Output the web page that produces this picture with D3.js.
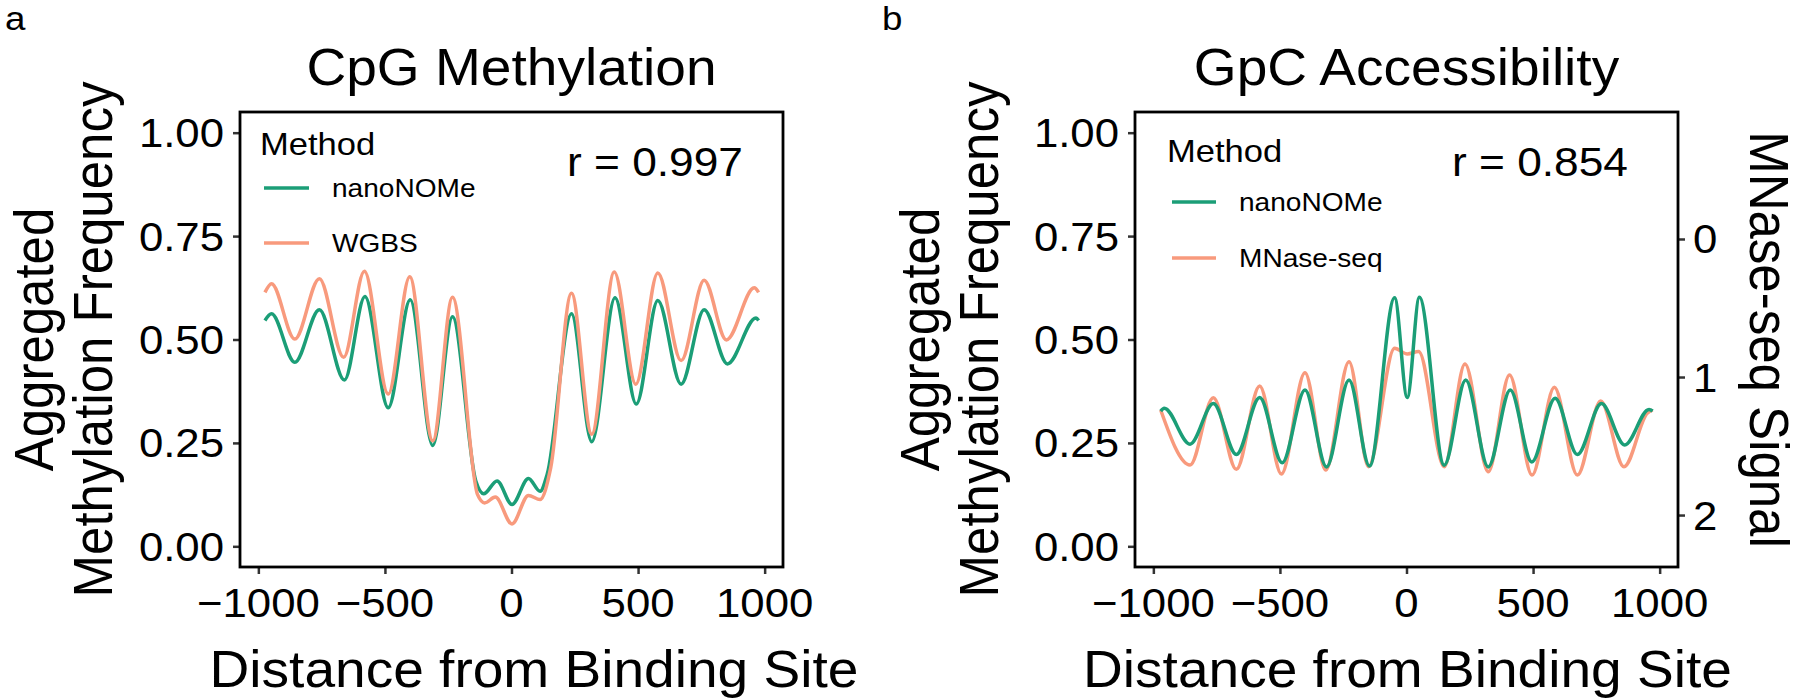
<!DOCTYPE html>
<html>
<head>
<meta charset="utf-8">
<script src="https://cdn.jsdelivr.net/npm/d3@7"></script>
<style>
  html, body { margin: 0; padding: 0; background: #ffffff; }
  svg text { font-family: "Liberation Sans", Arial, Helvetica, sans-serif; fill: #000; }
</style>
</head>
<body>
<svg id="chart" width="1800" height="700"></svg>
<script>
// ---------------- DATA ----------------
const xTicks = [-1000, -500, 0, 500, 1000];
const yTicks = [0, 0.25, 0.5, 0.75, 1.0];
const yTickLabels = ["0.00", "0.25", "0.50", "0.75", "1.00"];
const secTicks = [0, 1, 2];

// Panel a: CpG methylation
const cpgNanoX = [-974, -948, -856, -759, -660, -579, -487, -400, -311, -233, -141, -110, -57, 2, 67, 113, 141, 237, 317, 409, 493, 578, 670, 761, 853, 966, 976];
const cpgNanoY = [0.546, 0.562, 0.445, 0.572, 0.402, 0.604, 0.335, 0.596, 0.244, 0.555, 0.158, 0.127, 0.158, 0.101, 0.164, 0.133, 0.174, 0.562, 0.253, 0.601, 0.344, 0.594, 0.392, 0.572, 0.441, 0.552, 0.546];
const cpgWgbsX = [-974, -948, -856, -759, -663, -581, -487, -402, -311, -233, -134, -106, -64, 2, 67, 113, 155, 237, 317, 406, 491, 578, 670, 761, 849, 959, 976];
const cpgWgbsY = [0.614, 0.635, 0.501, 0.647, 0.457, 0.665, 0.368, 0.652, 0.255, 0.602, 0.125, 0.105, 0.119, 0.054, 0.123, 0.113, 0.190, 0.612, 0.271, 0.663, 0.392, 0.661, 0.449, 0.643, 0.499, 0.625, 0.614];

// Panel b: GpC accessibility (nanoNOMe) and MNase-seq signal (secondary axis)
const gpcNanoX = [-971, -957, -855, -763, -672, -580, -491, -401, -316, -227, -146, -47, 3, 51, 149, 234, 323, 410, 495, 587, 675, 770, 862, 958, 972];
const gpcNanoY = [0.327, 0.334, 0.247, 0.345, 0.222, 0.360, 0.202, 0.378, 0.192, 0.402, 0.194, 0.601, 0.360, 0.602, 0.196, 0.402, 0.192, 0.378, 0.204, 0.358, 0.222, 0.345, 0.245, 0.331, 0.327];
const mnaseX = [-971, -855, -763, -672, -580, -494, -401, -319, -227, -150, -47, 3, 48, 149, 231, 323, 407, 496, 584, 675, 767, 859, 951, 972];
const mnaseY = [1.239, 1.638, 1.150, 1.669, 1.065, 1.703, 0.969, 1.674, 0.889, 1.650, 0.792, 0.833, 0.816, 1.650, 0.906, 1.686, 0.986, 1.710, 1.075, 1.710, 1.174, 1.650, 1.263, 1.239];

// secondary axis: primary = secA - secB * signal
const secA = 0.743, secB = 0.3337;

// ---------------- STYLE / LAYOUT ----------------
const TEAL = "#1b9e77";
const SALMON = "#f89a7d";
const STRETCH = 1.08;
const FONT = { title: 51, axis: 51, tick: 40.5, legendTitle: 32, legend: 26, r: 41, panel: 34 };

const svg = d3.select("#chart");

function txt(x, y, str, size, anchor, rot) {
  return svg.append("text")
    .attr("transform", `translate(${x},${y}) scale(${STRETCH},1)` + (rot ? ` rotate(${rot})` : ""))
    .attr("font-size", size)
    .attr("text-anchor", anchor || "start")
    .text(str);
}

function panel(cfg) {
  const x = d3.scaleLinear().domain([-1072.5, 1072.5]).range([cfg.left, cfg.right]);
  const y = d3.scaleLinear().domain([-0.05, 1.05]).range([567, 112]);
  const top = 112, bottom = 567;

  // title
  txt((cfg.left + cfg.right) / 2, 85, cfg.title, FONT.title, "middle");

  // y ticks
  const yAxis = d3.axisLeft(y).tickValues(yTicks).tickSize(7).tickFormat("");
  const gy = svg.append("g").attr("transform", `translate(${cfg.left},0)`).call(yAxis);
  gy.select(".domain").remove();
  gy.selectAll("line").attr("stroke", "#333").attr("stroke-width", 2.5);
  yTicks.forEach((t, i) => txt(cfg.left - 16, y(t) + 14.5, yTickLabels[i], FONT.tick, "end"));

  // x ticks
  const xAxis = d3.axisBottom(x).tickValues(xTicks).tickSize(7).tickFormat("");
  const gx = svg.append("g").attr("transform", `translate(0,${bottom})`).call(xAxis);
  gx.select(".domain").remove();
  gx.selectAll("line").attr("stroke", "#333").attr("stroke-width", 2.5);
  xTicks.forEach(t => txt(x(t), 617, d3.format("d")(t).replace("-", "\u2212"), FONT.tick, "middle"));

  // secondary axis
  if (cfg.secondary) {
    const ys = v => y(secA - secB * v);
    const sScale = d3.scaleLinear().domain([0, 2]).range([ys(0), ys(2)]);
    const sAxis = d3.axisRight(sScale).tickValues(secTicks).tickSize(7).tickFormat("");
    const gs = svg.append("g").attr("transform", `translate(${cfg.right},0)`).call(sAxis);
    gs.select(".domain").remove();
    gs.selectAll("line").attr("stroke", "#333").attr("stroke-width", 2.5);
    secTicks.forEach(t => txt(cfg.right + 15, sScale(t) + 14.5, String(t), FONT.tick, "start"));
    txt(1750, (top + bottom) / 2, "MNase-seq Signal", FONT.axis, "middle", 90);
  }

  // axis titles
  txt(cfg.xTitleX, 687, "Distance from Binding Site", FONT.axis, "middle");
  txt(cfg.yTitle1, (top + bottom) / 2, "Aggregated", FONT.axis, "middle", -90);
  txt(cfg.yTitle2, (top + bottom) / 2, "Methylation Frequency", FONT.axis, "middle", -90);

  // lines
  const clipId = "clip" + cfg.id;
  svg.append("clipPath").attr("id", clipId).append("rect")
    .attr("x", cfg.left).attr("y", top).attr("width", cfg.right - cfg.left).attr("height", bottom - top);
  const g = svg.append("g").attr("clip-path", `url(#${clipId})`);
  cfg.series.forEach(s => {
    const pts = s.xs.map((d, i) => [x(d), s.secondary ? y(secA - secB * s.ys[i]) : y(s.ys[i])]);
    g.append("path")
      .attr("d", d3.line().curve(d3.curveMonotoneX)(pts))
      .attr("fill", "none")
      .attr("stroke", s.color)
      .attr("stroke-width", 3.5)
      .attr("stroke-linejoin", "round");
  });

  // border
  svg.append("rect").attr("x", cfg.left).attr("y", top)
    .attr("width", cfg.right - cfg.left).attr("height", bottom - top)
    .attr("fill", "none").attr("stroke", "#000").attr("stroke-width", 2.8);

  // legend
  txt(cfg.legX, cfg.legTitleY, "Method", FONT.legendTitle, "start");
  cfg.legend.forEach((l, i) => {
    const ly = cfg.legY[i];
    svg.append("line").attr("x1", cfg.keyX1).attr("x2", cfg.keyX2).attr("y1", ly).attr("y2", ly)
      .attr("stroke", l.color).attr("stroke-width", 3.5);
    txt(cfg.legTextX, ly + 9.3, l.label, FONT.legend, "start");
  });

  // correlation
  txt(cfg.rX, 176, cfg.r, FONT.r, "start");

  // panel letter
  txt(cfg.letterX, 30, cfg.letter, FONT.panel, "start");
}

panel({
  id: "a", letter: "a", letterX: 5,
  left: 240, right: 783, title: "CpG Methylation",
  xTitleX: 534, yTitle1: 53, yTitle2: 112,
  legX: 260, legTitleY: 155, legY: [188, 243], keyX1: 264, keyX2: 309, legTextX: 332,
  rX: 567, r: "r = 0.997",
  legend: [{ label: "nanoNOMe", color: TEAL }, { label: "WGBS", color: SALMON }],
  series: [
    { xs: cpgNanoX, ys: cpgNanoY, color: TEAL },
    { xs: cpgWgbsX, ys: cpgWgbsY, color: SALMON }
  ]
});

panel({
  id: "b", letter: "b", letterX: 882,
  left: 1135, right: 1678, title: "GpC Accessibility",
  xTitleX: 1407.5, yTitle1: 939, yTitle2: 998,
  legX: 1167, legTitleY: 162, legY: [202, 258], keyX1: 1172, keyX2: 1216, legTextX: 1239,
  rX: 1452, r: "r = 0.854",
  secondary: true,
  legend: [{ label: "nanoNOMe", color: TEAL }, { label: "MNase-seq", color: SALMON }],
  series: [
    { xs: mnaseX, ys: mnaseY, color: SALMON, secondary: true },
    { xs: gpcNanoX, ys: gpcNanoY, color: TEAL }
  ]
});
</script>
</body>
</html>
